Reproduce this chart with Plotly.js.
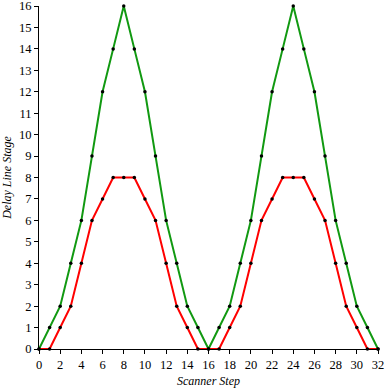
<!DOCTYPE html>
<html>
<head>
<meta charset="utf-8">
<script src="https://cdn.plot.ly/plotly-3.0.1.min.js"></script>
<style>html,body{margin:0;padding:0;background:#fff}#chart{width:385px;height:388px}</style>
</head>
<body>
<div id="chart"></div>
<script>
const steps = [0,1,2,3,4,5,6,7,8,9,10,11,12,13,14,15,16,17,18,19,20,21,22,23,24,25,26,27,28,29,30,31,32];
const greenStage = [0,1,2,4,6,9,12,14,16,14,12,9,6,4,2,1,0,1,2,4,6,9,12,14,16,14,12,9,6,4,2,1,0];
const redStage = [0,0,1,2,4,6,7,8,8,8,7,6,4,2,1,0,0,0,1,2,4,6,7,8,8,8,7,6,4,2,1,0,0];
const xTicks = [0,2,4,6,8,10,12,14,16,18,20,22,24,26,28,30,32];
const yTicks = [0,1,2,3,4,5,6,7,8,9,10,11,12,13,14,15,16];

const mk = (y, color) => ({
  x: steps, y: y, type: 'scatter', mode: 'lines+markers',
  line: {color: color, width: 2},
  marker: {color: '#000', size: 3.5},
  cliponaxis: false, showlegend: false
});

const font = {family: 'Liberation Serif, DejaVu Serif, serif', size: 12.5, color: '#000'};
const tfont = {family: 'Liberation Serif, DejaVu Serif, serif', size: 12, color: '#000'};
Plotly.newPlot('chart', [mk(greenStage, '#119911'), mk(redStage, '#ff0000')], {
  width: 385, height: 388,
  margin: {l: 39, r: 7, t: 6, b: 39},
  paper_bgcolor: '#fff', plot_bgcolor: '#fff',
  font: font,
  xaxis: {
    range: [0, 32], tickvals: xTicks, ticks: 'outside', ticklen: 4, tickcolor: '#000',
    showgrid: false, zeroline: false, showline: true, linecolor: '#000', linewidth: 1,
    tickfont: font, ticklabeloverflow: 'allow',
    title: {text: '<i>Scanner Step</i>', font: tfont, standoff: 7}
  },
  yaxis: {
    range: [0, 16], tickvals: yTicks, ticks: 'outside', ticklen: 4, tickcolor: '#000',
    showgrid: false, zeroline: false, showline: true, linecolor: '#000', linewidth: 1,
    tickfont: font, ticklabeloverflow: 'allow',
    title: {text: '<i>Delay Line Stage</i>', font: tfont, standoff: 4}
  }
}, {staticPlot: true});
</script>
</body>
</html>
